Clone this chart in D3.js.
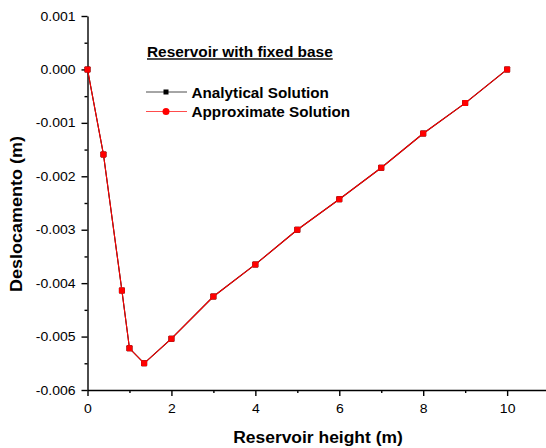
<!DOCTYPE html>
<html>
<head>
<meta charset="utf-8">
<script src="https://cdn.jsdelivr.net/npm/d3@7"></script>
<style>
  html, body { margin: 0; padding: 0; background: #fff; }
  svg { display: block; font-family: 'Liberation Sans', Arial, sans-serif; }
</style>
</head>
<body>
<svg id="chart" width="546" height="448"></svg>
<script>
// ── Data ─────────────────────────────────────────────
const heights = [0, 0.38, 0.82, 1, 1.35, 2, 3, 4, 5, 6, 7, 8, 9, 10];
const analytical = [0, -0.00159, -0.00414, -0.00522, -0.00550, -0.00504, -0.00425, -0.00365, -0.00300, -0.00243, -0.00184, -0.00120, -0.00063, 0];
const approximate = [0, -0.00159, -0.00414, -0.00522, -0.00550, -0.00504, -0.00425, -0.00365, -0.00300, -0.00243, -0.00184, -0.00120, -0.00063, 0];
const xTicks = [0, 2, 4, 6, 8, 10];
const xMinor = [1, 3, 5, 7, 9];
const yTicks = [0.001, 0, -0.001, -0.002, -0.003, -0.004, -0.005, -0.006];
const yMinor = [0.0005, -0.0005, -0.0015, -0.0025, -0.0035, -0.0045, -0.0055];

const series = [
  { name: 'Analytical Solution', values: analytical, color: '#000000', marker: 'square' },
  { name: 'Approximate Solution', values: approximate, color: '#ff0000', marker: 'circle' },
];

// ── Setup ────────────────────────────────────────────
const svg = d3.select('#chart');
const mLeft = 87.5, mTop = 16, mBottom = 390;

const x = d3.scaleLinear().domain([0, 10.95]).range([mLeft, 547]);
const y = d3.scaleLinear().domain([-0.006, 0.001]).range([mBottom, mTop]);

// text in the original is a bit wider than the font's natural width
function stretch(sel, k) {
  sel.each(function () {
    const w = this.getComputedTextLength();
    d3.select(this).attr('textLength', w * k).attr('lengthAdjust', 'spacingAndGlyphs');
  });
}

// ── Axes ─────────────────────────────────────────────
const fmt = d3.format('.3f');
const yFmt = d => {
  const s = fmt(Math.abs(d));
  return d < -1e-9 ? '-' + s : s;
};
const xAxis = svg.append('g').attr('transform', `translate(0,${mBottom})`)
  .call(d3.axisBottom(x).tickValues(xTicks).tickFormat(d3.format('d')).tickSize(6).tickPadding(5).tickSizeOuter(0));
svg.append('g').attr('transform', `translate(0,${mBottom})`)
  .call(d3.axisBottom(x).tickValues(xMinor).tickFormat('').tickSize(3).tickSizeOuter(0))
  .call(g => g.select('.domain').remove());

const yAxis = svg.append('g').attr('transform', `translate(${mLeft},0)`)
  .call(d3.axisLeft(y).tickValues(yTicks).tickFormat(yFmt).tickSize(6).tickPadding(6).tickSizeOuter(0));
svg.append('g').attr('transform', `translate(${mLeft},0)`)
  .call(d3.axisLeft(y).tickValues(yMinor).tickFormat('').tickSize(3).tickSizeOuter(0))
  .call(g => g.select('.domain').remove());

svg.selectAll('.domain, .tick line').attr('stroke', '#000').attr('stroke-width', 1.4);
svg.selectAll('.tick text')
  .attr('font-family', "'Liberation Sans', Arial, sans-serif")
  .attr('font-size', 12.5)
  .attr('fill', '#000');
xAxis.selectAll('.tick text').attr('dy', '0.95em');
stretch(yAxis.selectAll('.tick text'), 1.12);
stretch(xAxis.selectAll('.tick text'), 1.12);

// Axis titles
svg.append('text')
  .attr('x', 318).attr('y', 442.5)
  .attr('text-anchor', 'middle')
  .attr('font-size', 16).attr('font-weight', 'bold')
  .text('Reservoir height (m)')
  .call(stretch, 1.09);

svg.append('text')
  .attr('transform', 'translate(22,214) rotate(-90)')
  .attr('text-anchor', 'middle')
  .attr('font-size', 16.5).attr('font-weight', 'bold')
  .text('Deslocamento (m)')
  .call(stretch, 1.09);

// ── Lines & markers ──────────────────────────────────
const line = d3.line()
  .x((d, i) => x(heights[i]))
  .y(d => y(d));

series.forEach(s => {
  svg.append('path')
    .datum(s.values)
    .attr('fill', 'none')
    .attr('stroke', s.color)
    .attr('stroke-width', 1.1)
    .attr('d', line);
  svg.append('g').selectAll('rect')
    .data(s.values)
    .join('rect')
    .attr('x', (d, i) => x(heights[i]) - 3)
    .attr('y', d => y(d) - 3)
    .attr('width', 6).attr('height', 6)
    .attr('rx', 0.8)
    .attr('fill', s.color);
});

// ── Legend ───────────────────────────────────────────
svg.append('text')
  .attr('x', 147).attr('y', 57.3)
  .attr('font-size', 14).attr('font-weight', 'bold')
  .attr('text-decoration', 'underline')
  .text('Reservoir with fixed base')
  .call(stretch, 1.1);

const legend = svg.append('g');
series.forEach((s, i) => {
  const ly = 92 + i * 19.5;
  const item = legend.append('g');
  item.append('line')
    .attr('x1', 146).attr('x2', 187)
    .attr('y1', ly).attr('y2', ly)
    .attr('stroke', s.color)
    .attr('stroke-opacity', 0.7)
    .attr('stroke-width', 1);
  if (s.marker === 'square') {
    item.append('rect')
      .attr('x', 163.5).attr('y', ly - 2.5)
      .attr('width', 5).attr('height', 5)
      .attr('fill', s.color);
  } else {
    item.append('circle')
      .attr('cx', 166).attr('cy', ly)
      .attr('r', 3.5)
      .attr('fill', s.color);
  }
  item.append('text')
    .attr('x', 191.5).attr('y', ly + 5.7)
    .attr('font-size', 14).attr('font-weight', 'bold')
    .text(s.name)
    .call(stretch, 1.09);
});
</script>
</body>
</html>
